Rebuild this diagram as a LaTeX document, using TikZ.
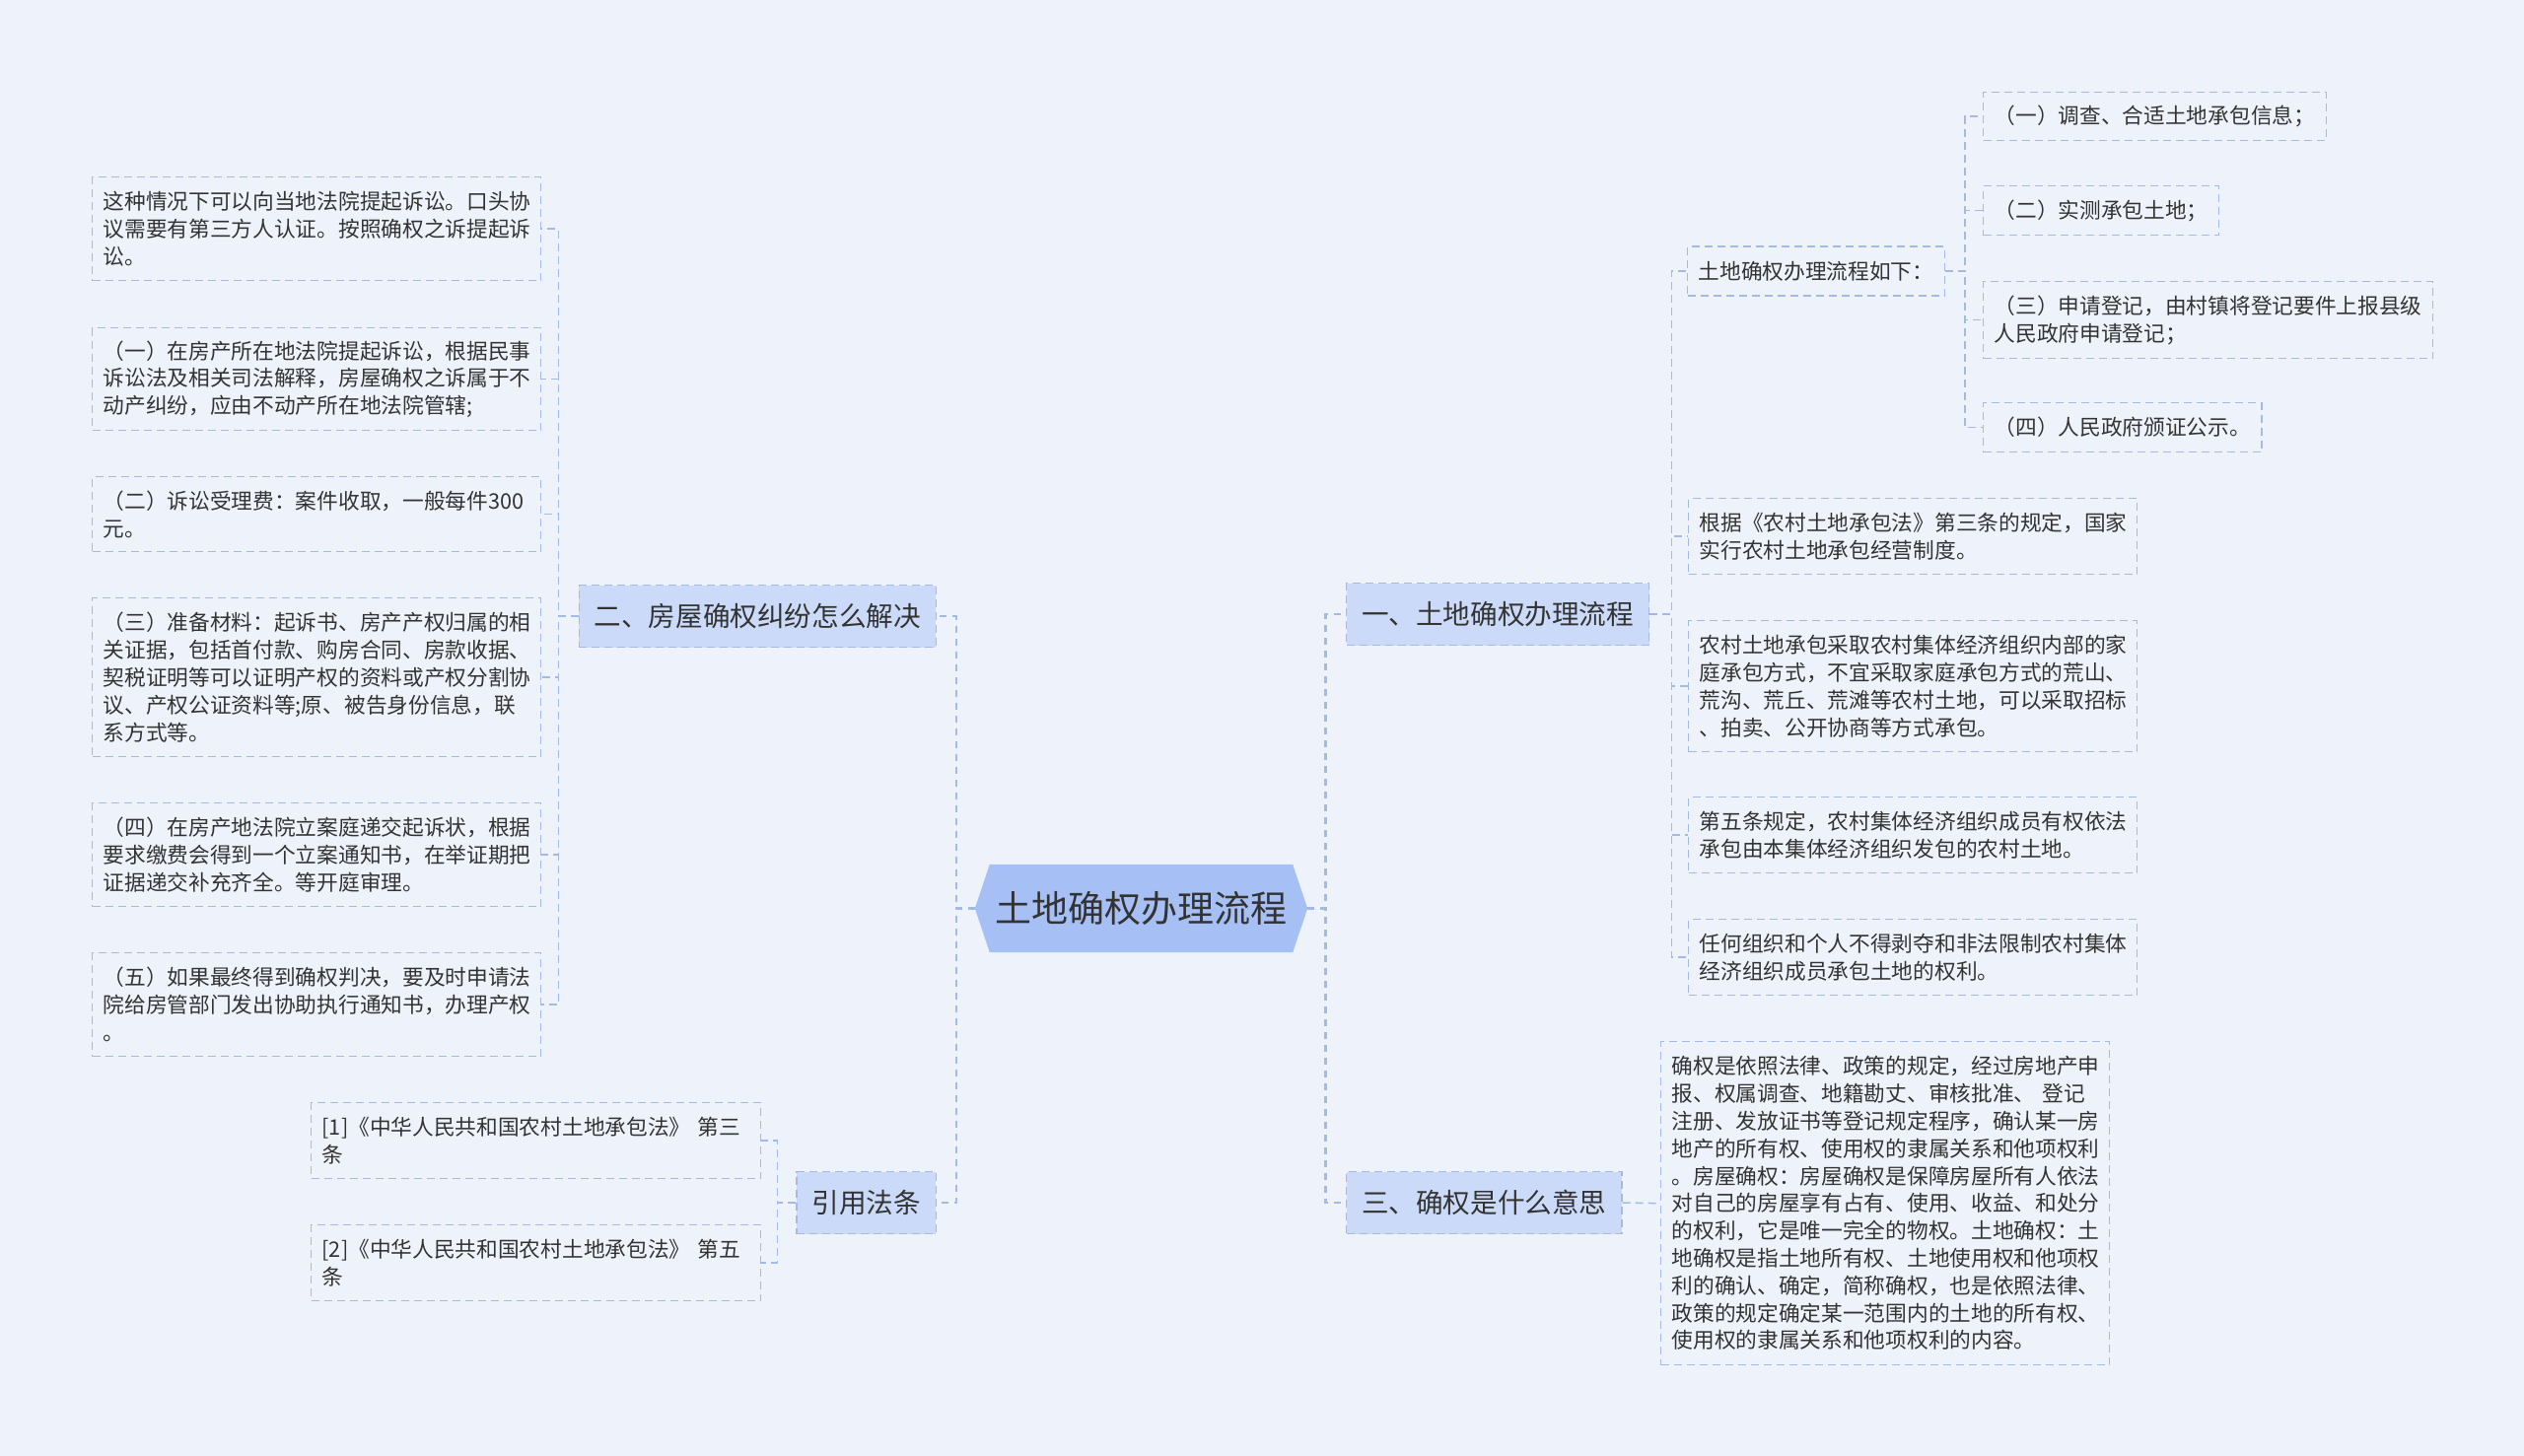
\documentclass[tikz,border=0pt]{standalone}
\usepackage{fontspec}
\setmainfont{Noto Sans CJK SC}
\usetikzlibrary{calc}
\definecolor{bgc}{HTML}{EEF3FB}
\definecolor{rootc}{HTML}{A6C0F6}
\definecolor{branchc}{HTML}{CBDAF8}
\definecolor{linec}{HTML}{A3B9E8}
\definecolor{txtc}{HTML}{333333}
\pgfdeclarelayer{bg}
\pgfsetlayers{bg,main}
\begin{document}
\begin{tikzpicture}[x=1pt,y=-1pt,
  leaf/.style={draw=linec, line width=1.3pt, dash pattern=on 8pt off 5pt, inner xsep=11pt, inner ysep=0pt, align=left, text=txtc, font=\fontsize{21.7}{27.8}\selectfont, anchor=north west},
  branch/.style={fill=branchc, draw=linec, line width=1.3pt, dash pattern=on 8pt off 5pt, inner xsep=15.5pt, inner ysep=0pt, minimum height=63pt, text=txtc, font=\fontsize{27.6}{32}\selectfont},
  rootnode/.style={inner sep=0pt, minimum width=337pt, minimum height=89pt, text=txtc, font=\fontsize{37}{42}\selectfont},
  conn/.style={draw=linec, line width=1.5pt, dash pattern=on 8pt off 5pt},
  mainconn/.style={draw=linec, line width=2.6pt, dash pattern=on 7pt off 6pt},
]
\useasboundingbox (0,0) rectangle (2560,1477);

% root
\node[rootnode] (root) at (1157.5,921.5) {土地确权办理流程};

% branches
\node[branch, anchor=east] (b2) at (950,625) {二、房屋确权纠纷怎么解决};
\node[branch, anchor=east] (b4) at (950,1220) {引用法条};
\node[branch, anchor=west] (b1) at (1365,623) {一、土地确权办理流程};
\node[branch, anchor=west] (b3) at (1365,1220) {三、确权是什么意思};

% left leaves
\node[leaf, text width=433pt, minimum height=105pt] (l1) at (93,179) {这种情况下可以向当地法院提起诉讼。口头协\\议需要有第三方人认证。按照确权之诉提起诉\\讼。};
\node[leaf, text width=433pt, minimum height=104pt] (l2) at (93,332) {（一）在房产所在地法院提起诉讼，根据民事\\诉讼法及相关司法解释，房屋确权之诉属于不\\动产纠纷，应由不动产所在地法院管辖;};
\node[leaf, text width=433pt, minimum height=76pt] (l3) at (93,483) {（二）诉讼受理费：案件收取，一般每件300\\元。};
\node[leaf, text width=433pt, minimum height=161pt] (l4) at (93,606) {（三）准备材料：起诉书、房产产权归属的相\\关证据，包括首付款、购房合同、房款收据、\\契税证明等可以证明产权的资料或产权分割协\\议、产权公证资料等;原、被告身份信息，联\\系方式等。};
\node[leaf, text width=433pt, minimum height=105pt] (l5) at (93,814) {（四）在房产地法院立案庭递交起诉状，根据\\要求缴费会得到一个立案通知书，在举证期把\\证据递交补充齐全。等开庭审理。};
\node[leaf, text width=433pt, minimum height=105pt] (l6) at (93,966) {（五）如果最终得到确权判决，要及时申请法\\院给房管部门发出协助执行通知书，办理产权\\。};

% citations
\node[leaf, text width=434pt, minimum height=77pt] (c1) at (315,1118) {[1]《中华人民共和国农村土地承包法》 第三\\条};
\node[leaf, text width=434pt, minimum height=77pt] (c2) at (315,1242) {[2]《中华人民共和国农村土地承包法》 第五\\条};

% right leaves
\node[leaf, anchor=west, minimum height=50pt] (r0) at (1711,275) {土地确权办理流程如下：};
\node[leaf, minimum height=49pt] (r1) at (2011,93) {（一）调查、合适土地承包信息；};
\node[leaf, minimum height=50pt] (r2) at (2011,188) {（二）实测承包土地；};
\node[leaf, text width=434pt, minimum height=78pt] (r3) at (2011,285) {（三）申请登记，由村镇将登记要件上报县级\\人民政府申请登记；};
\node[leaf, minimum height=50pt] (r4) at (2011,408) {（四）人民政府颁证公示。};
\node[leaf, text width=433pt, minimum height=77pt] (r5) at (1712,505) {根据《农村土地承包法》第三条的规定，国家\\实行农村土地承包经营制度。};
\node[leaf, text width=433pt, minimum height=133pt] (r6) at (1712,629) {农村土地承包采取农村集体经济组织内部的家\\庭承包方式，不宜采取家庭承包方式的荒山、\\荒沟、荒丘、荒滩等农村土地，可以采取招标\\、拍卖、公开协商等方式承包。};
\node[leaf, text width=433pt, minimum height=77pt] (r7) at (1712,808) {第五条规定，农村集体经济组织成员有权依法\\承包由本集体经济组织发包的农村土地。};
\node[leaf, text width=433pt, minimum height=77pt] (r8) at (1712,932) {任何组织和个人不得剥夺和非法限制农村集体\\经济组织成员承包土地的权利。};
\node[leaf, text width=433pt, minimum height=328pt] (r9) at (1684,1056) {确权是依照法律、政策的规定，经过房地产申\\报、权属调查、地籍勘丈、审核批准、 登记\\注册、发放证书等登记规定程序，确认某一房\\地产的所有权、使用权的隶属关系和他项权利\\。房屋确权：房屋确权是保障房屋所有人依法\\对自己的房屋享有占有、使用、收益、和处分\\的权利，它是唯一完全的物权。土地确权：土\\地确权是指土地所有权、土地使用权和他项权\\利的确认、确定，简称确权，也是依照法律、\\政策的规定确定某一范围内的土地的所有权、\\使用权的隶属关系和他项权利的内容。};

% connectors
\draw[mainconn] (root.west) -- ++(-19,0) |- (b2.east);
\draw[mainconn] (root.west) -- ++(-19,0) |- (b4.east);
\draw[mainconn] (root.east) -- ++(18,0) |- (b1.west);
\draw[mainconn] (root.east) -- ++(18,0) |- (b3.west);

\foreach \c in {l1,l2,l3,l4,l5,l6} \draw[conn] (b2.west) -- ++(-20,0) |- (\c.east);
\foreach \c in {c1,c2} \draw[conn] (b4.west) -- ++(-19,0) |- (\c.east);
\foreach \c in {r0,r5,r6,r7,r8} \draw[conn] (b1.east) -- ++(22,0) |- (\c.west);
\foreach \c in {r1,r2,r3,r4} \draw[conn] (r0.east) -- ++(20,0) |- (\c.west);
\draw[conn] (b3.east) -- (r9.west);

\begin{pgfonlayer}{bg}
\fill[bgc] (0,0) rectangle (2560,1477);
\fill[rootc] ($(root.north west)+(15,0)$) -- ($(root.north east)+(-15,0)$) -- (root.east) -- ($(root.south east)+(-15,0)$) -- ($(root.south west)+(15,0)$) -- (root.west) -- cycle;
\end{pgfonlayer}
\end{tikzpicture}
\end{document}
